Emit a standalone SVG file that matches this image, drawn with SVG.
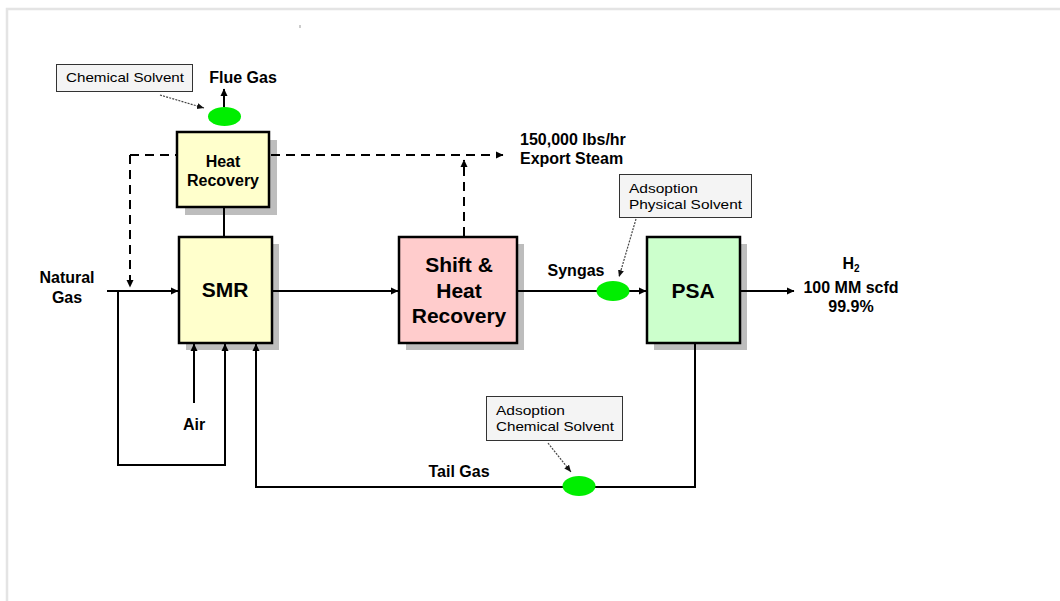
<svg xmlns="http://www.w3.org/2000/svg" width="1060" height="601" viewBox="0 0 1060 601">
<style>
  .box{stroke:#000;stroke-width:2.5}
  .shadow{fill:#bdbdbd}
  .ln{fill:none;stroke:#000;stroke-width:2}
  .dash{fill:none;stroke:#000;stroke-width:2;stroke-dasharray:9 6}
  .dot{fill:none;stroke:#444;stroke-width:1.2;stroke-dasharray:2 1.2}
  .note{fill:#f4f4f4;stroke:#333;stroke-width:1}
  .ell{fill:#00ee00}
  text{font-family:"Liberation Sans",Arial,sans-serif;fill:#000}
  .b{font-weight:bold}
  .big{font-size:21px;font-weight:bold}
  .lbl{font-size:16px;font-weight:bold}
  .small{font-size:13px}
</style>
<defs>
  <marker id="ah" markerWidth="8" markerHeight="8" refX="7" refY="4" orient="auto" markerUnits="userSpaceOnUse">
    <path d="M0,0.5 L7.5,4 L0,7.5 z" fill="#000"/>
  </marker>
  <marker id="ahs" markerWidth="8" markerHeight="8" refX="7" refY="4" orient="auto" markerUnits="userSpaceOnUse">
    <path d="M0,1 L7,4 L0,7 z" fill="#111"/>
  </marker>
</defs>
<rect x="0" y="0" width="1060" height="601" fill="#fff"/>
<path d="M7,601 V9 H1060" fill="none" stroke="#e4e4e4" stroke-width="2.5"/>
<line x1="300" y1="25" x2="300" y2="28" stroke="#999" stroke-width="1"/>

<g id="heat-recovery">
  <rect class="shadow" x="185" y="140" width="92" height="75"/>
  <rect class="box" x="177" y="132" width="92" height="75" fill="#ffffcc"/>
  <text class="b" font-size="16" x="223" y="167" text-anchor="middle">Heat</text>
  <text class="b" font-size="16" x="223" y="186" text-anchor="middle">Recovery</text>
</g>

<g id="smr">
  <rect class="shadow" x="186" y="244" width="93" height="106"/>
  <rect class="box" x="179" y="237" width="93" height="106" fill="#ffffcc"/>
  <text class="big" x="225" y="297" text-anchor="middle">SMR</text>
</g>

<g id="shift">
  <rect class="shadow" x="406" y="244" width="118" height="106"/>
  <rect class="box" x="399" y="237" width="118" height="106" fill="#ffcccc"/>
  <text class="big" x="459" y="272" text-anchor="middle">Shift &amp;</text>
  <text class="big" x="459" y="298" text-anchor="middle">Heat</text>
  <text class="big" x="459" y="323" text-anchor="middle">Recovery</text>
</g>

<g id="psa">
  <rect class="shadow" x="654" y="244" width="93" height="106"/>
  <rect class="box" x="647" y="237" width="93" height="106" fill="#ccffcc"/>
  <text class="big" x="693" y="298" text-anchor="middle">PSA</text>
</g>

<g id="connectors">
  <path class="dash" d="M130,155 H176"/>
  <path class="dash" d="M130,155 V287" marker-end="url(#ah)"/>
  <path class="dash" d="M271,155 H503" marker-end="url(#ah)"/>
  <path class="dash" d="M464,236 V160" marker-end="url(#ah)"/>
  <path class="ln" d="M224,107 V89" marker-end="url(#ah)"/>
  <path class="ln" d="M224,208 V236"/>
  <path class="ln" d="M107,291 H178" marker-end="url(#ah)"/>
  <path class="ln" d="M118,291 V465 H225 V344" marker-end="url(#ah)"/>
  <path class="ln" d="M194,403 V344" marker-end="url(#ah)"/>
  <path class="ln" d="M695,344 V487 H256 V344" marker-end="url(#ah)"/>
  <path class="ln" d="M273,291 H398" marker-end="url(#ah)"/>
  <path class="ln" d="M518,291 H646" marker-end="url(#ah)"/>
  <path class="ln" d="M741,291 H794" marker-end="url(#ah)"/>
  <path class="dot" d="M160,95 L204,108" marker-end="url(#ahs)"/>
  <path class="dot" d="M636,219 L619,277" marker-end="url(#ahs)"/>
  <path class="dot" d="M548,443 L571,472" marker-end="url(#ahs)"/>
</g>

<g id="ellipses">
  <ellipse class="ell" cx="224.5" cy="116.5" rx="16.5" ry="9.5"/>
  <ellipse class="ell" cx="613" cy="291" rx="16.5" ry="10"/>
  <ellipse class="ell" cx="579" cy="486" rx="16.5" ry="10"/>
</g>

<g id="note-chemical">
  <rect class="note" x="56.5" y="64.5" width="136" height="27"/>
  <text class="small" x="66" y="82" textLength="118" lengthAdjust="spacingAndGlyphs">Chemical Solvent</text>
</g>

<g id="note-physical">
  <rect class="note" x="619.5" y="174.5" width="132" height="43"/>
  <text class="small" x="629" y="193" textLength="69" lengthAdjust="spacingAndGlyphs">Adsoption</text>
  <text class="small" x="629" y="209" textLength="113" lengthAdjust="spacingAndGlyphs">Physical Solvent</text>
</g>

<g id="note-tail">
  <rect class="note" x="486.5" y="396.5" width="136" height="44"/>
  <text class="small" x="496" y="415" textLength="69" lengthAdjust="spacingAndGlyphs">Adsoption</text>
  <text class="small" x="496" y="431" textLength="118" lengthAdjust="spacingAndGlyphs">Chemical Solvent</text>
</g>

<g id="labels">
  <text class="lbl" x="243" y="83" text-anchor="middle">Flue Gas</text>
  <text class="lbl" x="520" y="145">150,000 lbs/hr</text>
  <text class="lbl" x="520" y="164">Export Steam</text>
  <text class="lbl" x="67" y="283" text-anchor="middle">Natural</text>
  <text class="lbl" x="67" y="303" text-anchor="middle">Gas</text>
  <text class="lbl" x="194" y="430" text-anchor="middle">Air</text>
  <text class="lbl" x="459" y="477" text-anchor="middle">Tail Gas</text>
  <text class="lbl" x="576" y="276" text-anchor="middle">Syngas</text>
  <text class="lbl" x="851" y="269" text-anchor="middle">H<tspan font-size="10" dy="3">2</tspan></text>
  <text class="lbl" x="851" y="293" text-anchor="middle">100 MM scfd</text>
  <text class="lbl" x="851" y="312" text-anchor="middle">99.9%</text>
</g>
</svg>
